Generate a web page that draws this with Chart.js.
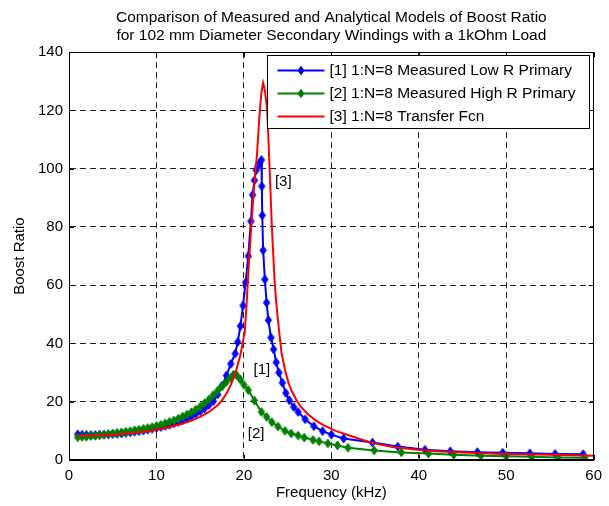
<!DOCTYPE html>
<html>
<head>
<meta charset="utf-8">
<script src="https://cdn.jsdelivr.net/npm/chart.js@4.4.1/dist/chart.umd.min.js"></script>
<style>
html,body{margin:0;padding:0;background:#fff;}
canvas{display:block;}
</style>
</head>
<body>
<canvas id="c" width="609" height="506"></canvas>
<script>
// ---- data ----
const titleLines = ["Comparison of Measured and Analytical Models of Boost Ratio",
                    "for 102 mm Diameter Secondary Windings with a 1kOhm Load"];
const xTitle = "Frequency (kHz)";
const yTitle = "Boost Ratio";
const seriesNames = ["[1] 1:N=8 Measured Low R Primary",
                     "[2] 1:N=8 Measured High R Primary",
                     "[3] 1:N=8 Transfer Fcn"];
const annotationText = ["[3]", "[1]", "[2]"];
const annotationX = [24.5, 22.05, 21.4];
const annotationY = [95.5, 30.8, 9.1];

const lowRFreq = [1.0,1.5,2.0,2.5,3.0,3.5,4.0,4.5,5.0,5.5,6.0,6.5,7.0,7.5,8.0,8.5,9.0,9.5,10.0,10.5,
  11.0,11.5,12.0,12.5,13.0,13.5,14.0,14.5,15.0,15.5,16.0,16.5,17.0,17.5,18.0,18.5,19.0,19.3,19.6,19.9,
  20.2,20.5,20.8,21.0,21.2,21.4,21.6,21.8,22.0,22.05,22.1,22.2,22.4,22.6,22.8,23.1,23.4,23.7,24.0,24.4,
  24.8,25.2,25.7,26.2,27.0,28.0,29.0,30.0,31.4,34.7,37.6,40.7,43.6,46.7,49.6,52.7,55.6,58.8];
const lowRRatio = [8.8,8.7,8.6,8.6,8.6,8.7,8.7,8.8,8.9,9.0,9.1,9.3,9.5,9.7,9.9,10.1,10.4,10.7,11.0,11.3,
  11.7,12.1,12.6,13.1,13.7,14.3,15.0,15.8,16.7,17.7,18.9,20.2,22.5,25.5,29.0,33.0,36.5,40.5,46.0,53.0,
  61.0,70.0,82.0,91.0,96.0,99.5,101.0,102.0,103.0,94.0,84.0,72.0,62.0,54.0,48.0,42.0,38.0,33.5,30.0,26.5,
  23.0,20.5,18.2,16.5,14.0,11.6,9.9,8.7,7.4,6.0,4.6,3.5,3.0,2.7,2.5,2.3,2.1,2.0];

const highRFreq = [1.0,1.5,2.0,2.5,3.0,3.5,4.0,4.5,5.0,5.5,6.0,6.5,7.0,7.5,8.0,8.5,9.0,9.5,10.0,10.5,
  11.0,11.5,12.0,12.5,13.0,13.5,14.0,14.5,15.0,15.5,16.0,16.5,17.0,17.5,18.0,18.5,18.8,19.2,19.6,20.0,
  20.5,21.2,22.0,22.6,23.2,23.9,24.7,25.4,26.2,26.9,27.9,28.6,29.6,30.7,31.9,34.9,38.0,41.1,44.0,47.1,
  50.0,52.9,55.9,59.0];
const highRRatio = [7.8,7.9,8.0,8.2,8.3,8.5,8.7,8.9,9.1,9.3,9.5,9.7,9.9,10.2,10.4,10.7,11.0,11.3,11.7,12.1,
  12.6,13.1,13.6,14.2,14.9,15.6,16.4,17.3,18.3,19.5,20.8,22.3,23.8,25.3,26.8,28.2,29.3,29.0,27.6,25.8,
  24.0,20.4,16.5,14.8,13.0,11.5,10.0,9.1,8.4,7.7,6.9,6.4,5.7,5.0,4.2,3.3,2.6,2.2,1.8,1.5,
  1.3,1.1,0.9,0.8];

const tfFreq = [1,2,3,4,5,6,7,8,9,10,11,12,13,14,15,16,17,17.5,18,18.5,19,19.6,20.1,20.3,20.5,20.9,21.2,21.5,
  21.8,22.0,22.2,22.4,22.6,22.7,22.9,23.2,23.5,23.7,24.0,24.3,24.7,25.1,25.5,26.0,26.5,27.3,28.2,29.2,30.5,
  31.9,34.5,37.0,39.8,42.5,45.8,49.6,55.0,60.0];
const tfRatio = [8.3,8.3,8.4,8.5,8.7,8.9,9.2,9.5,9.9,10.4,11.0,11.7,12.5,13.5,14.8,16.5,18.8,20.5,22.8,25.8,29.5,36.0,44.0,53.0,64.0,83.0,95.0,105.0,
  119.0,126.0,129.5,127.0,122.0,118.0,103.0,80.0,62.0,54.0,45.0,37.0,31.0,26.5,23.5,20.6,18.3,15.8,13.6,11.8,10.0,
  8.6,6.0,4.5,3.5,2.9,2.5,2.1,1.8,1.5];

const xMin = 0, xMax = 60, xStep = 10;
const yMin = 0, yMax = 140, yStep = 20;

const colors = ["#0000ff", "#008000", "#ff0000"];
const FONT = "'Liberation Sans', Arial, Helvetica, sans-serif";

function pts(xs, ys){ return xs.map((x,i)=>({x:x, y:ys[i]})); }

function diamondPath(ctx, x, y, w, h){
  ctx.beginPath();
  ctx.moveTo(x, y - h);
  ctx.lineTo(x + w, y);
  ctx.lineTo(x, y + h);
  ctx.lineTo(x - w, y);
  ctx.closePath();
}
function diamond(ctx, x, y, color){
  ctx.save();
  ctx.fillStyle = color;
  ctx.strokeStyle = color;
  ctx.lineWidth = 1;
  diamondPath(ctx, x, y, 3, 4.2);
  ctx.fill();
  ctx.stroke();
  ctx.restore();
}
function markerCanvas(color){
  const cv = document.createElement('canvas');
  cv.width = 9; cv.height = 11;
  const c = cv.getContext('2d');
  c.fillStyle = color; c.strokeStyle = color; c.lineWidth = 1;
  diamondPath(c, 4.5, 5.5, 3.2, 4.4);
  c.fill(); c.stroke();
  return cv;
}

const decor = {
  id: 'decor',
  afterDatasetsDraw(chart){
    const ctx = chart.ctx;
    const a = chart.chartArea;
    const xs = chart.scales.x, ys = chart.scales.y;
    ctx.save();
    // box
    ctx.strokeStyle = '#000';
    ctx.lineWidth = 1;
    ctx.strokeRect(Math.round(a.left)+0.5, Math.round(a.top)+0.5, Math.round(a.right-a.left)-1, Math.round(a.bottom-a.top)-1);
    // inward ticks
    ctx.beginPath();
    xs.ticks.forEach(t => {
      const px = Math.round(xs.getPixelForValue(t.value)) + 0.5;
      ctx.moveTo(px, a.bottom); ctx.lineTo(px, a.bottom - 5);
      ctx.moveTo(px, a.top); ctx.lineTo(px, a.top + 5);
    });
    ys.ticks.forEach(t => {
      const py = Math.round(ys.getPixelForValue(t.value)) + 0.5;
      ctx.moveTo(a.left, py); ctx.lineTo(a.left + 5, py);
      ctx.moveTo(a.right, py); ctx.lineTo(a.right - 5, py);
    });
    ctx.stroke();
    // annotations
    ctx.fillStyle = '#000';
    ctx.font = "15px " + FONT;
    ctx.textAlign = 'center';
    ctx.textBaseline = 'middle';
    annotationText.forEach((t,i) => {
      ctx.fillText(t, xs.getPixelForValue(annotationX[i]), ys.getPixelForValue(annotationY[i]));
    });
    // legend
    const lw = 322, lh = 73;
    const lx = Math.round(a.right - 5 - lw) + 0.5, ly = Math.round(a.top + 3) + 0.5;
    ctx.fillStyle = '#fff';
    ctx.fillRect(lx, ly, lw, lh);
    ctx.strokeStyle = '#000';
    ctx.lineWidth = 1;
    ctx.strokeRect(lx, ly, lw, lh);
    ctx.textAlign = 'left';
    ctx.font = "15.5px " + FONT;
    seriesNames.forEach((name, i) => {
      const cy = ly + 15 + i*23;
      ctx.strokeStyle = colors[i];
      ctx.lineWidth = 2;
      ctx.beginPath();
      ctx.moveTo(lx + 10, cy); ctx.lineTo(lx + 57, cy);
      ctx.stroke();
      if (i < 2) diamond(ctx, lx + 33.5, cy, colors[i]);
      ctx.fillStyle = '#000';
      ctx.fillText(name, lx + 62, cy);
    });
    ctx.restore();
  }
};

const common = { showLine: true, borderWidth: 2, fill: false, tension: 0 };

new Chart(document.getElementById('c'), {
  type: 'line',
  data: {
    datasets: [
      Object.assign({ label: seriesNames[0], data: pts(lowRFreq, lowRRatio), borderColor: colors[0], backgroundColor: colors[0],
        pointStyle: markerCanvas(colors[0]), pointRadius: 4, order: 3 }, common),
      Object.assign({ label: seriesNames[1], data: pts(highRFreq, highRRatio), borderColor: colors[1], backgroundColor: colors[1],
        pointStyle: markerCanvas(colors[1]), pointRadius: 4, order: 2 }, common),
      Object.assign({ label: seriesNames[2], data: pts(tfFreq, tfRatio), borderColor: colors[2], backgroundColor: colors[2],
        pointRadius: 0, order: 1 }, common)
    ]
  },
  options: {
    responsive: false,
    animation: false,
    devicePixelRatio: 1,
    layout: { padding: { left: 0, right: 11, top: 0, bottom: 0 } },
    plugins: {
      legend: { display: false },
      tooltip: { enabled: false },
      title: {
        display: true, text: titleLines, fullSize: false, color: '#000',
        font: { family: FONT, size: 15.5, weight: 'normal', lineHeight: 1.2 },
        padding: { top: 8, bottom: 7 }
      }
    },
    scales: {
      x: {
        type: 'linear', min: xMin, max: xMax,
        afterFit: s => { s.height = 46; },
        ticks: { stepSize: xStep, color: '#000', font: { family: FONT, size: 15 }, padding: 7, maxRotation: 0 },
        grid: { color: '#222', drawTicks: false, lineWidth: 1 },
        border: { display: true, color: '#000', dash: [6, 4] },
        title: { display: true, text: xTitle, color: '#000', font: { family: FONT, size: 15 }, padding: { top: 0, bottom: 4 } }
      },
      y: {
        type: 'linear', min: yMin, max: yMax,
        afterFit: s => { s.width = 69; },
        ticks: { stepSize: yStep, color: '#000', font: { family: FONT, size: 15 }, padding: 6 },
        grid: { color: '#222', drawTicks: false, lineWidth: 1 },
        border: { display: true, color: '#000', dash: [6, 4] },
        title: { display: true, text: yTitle, color: '#000', font: { family: FONT, size: 15 }, padding: { top: 11, bottom: 0 } }
      }
    }
  },
  plugins: [decor]
});
</script>
</body>
</html>
